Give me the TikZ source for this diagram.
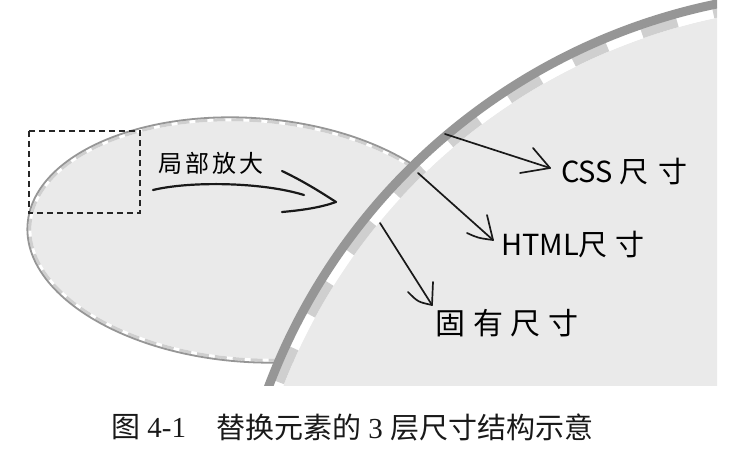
\documentclass[tikz,border=0pt]{standalone}
\usepackage{fontspec}
\setmainfont{Liberation Serif}
\newfontfamily\cjk{Noto Sans CJK SC}
\definecolor{bgfill}{HTML}{EAEAEA}
\definecolor{rimgray}{HTML}{969696}
\definecolor{dashgray}{HTML}{CFCFCF}
\tikzset{
  handtext/.style={font=\cjk, inner sep=0pt, anchor=west, text=black},
  penline/.style={line width=1.7pt, line cap=round, line join=round, draw=black!90},
  rectdash/.style={draw=black!85, line width=1.3pt, dash pattern=on 6pt off 4pt},
  captext/.style={inner sep=0pt, anchor=west, text=black!90, font=\fontsize{29}{31}\selectfont},
}
\begin{document}
\begin{tikzpicture}[x=1pt,y=-1pt]
\useasboundingbox (0,0) rectangle (744,468);
\begin{scope}
  \clip (0,0) rectangle (717,385);
  % small (magnified) ellipse
  \begin{scope}[shift={(250,240)}, rotate=-4]
    \fill[bgfill] (0,0) ellipse[x radius=223pt, y radius=122pt];
    \draw[white, line width=3pt] (0,0) ellipse[x radius=220.5pt, y radius=119.5pt];
    \draw[dashgray, line width=3pt, dash pattern=on 12pt off 6pt] (0,0) ellipse[x radius=220.5pt, y radius=119.5pt];
    \draw[rimgray, line width=1.8pt] (0,0) ellipse[x radius=223pt, y radius=122pt];
  \end{scope}
  \draw[rectdash] (29,131) rectangle (140,213);
  % big circle
  \coordinate (C) at (840,602);
  \fill[bgfill] (C) circle[radius=597pt];
  \draw[white, line width=10pt] (C) circle[radius=602pt];
  \draw[dashgray, line width=10pt, dash pattern=on 37.083pt off 37.083pt, dash phase=2pt] (C) circle[radius=602pt];
  \draw[rimgray, line width=9pt] (C) circle[radius=610.5pt];
\end{scope}

% labels
\node[handtext, font=\cjk\fontsize{24}{26}\selectfont] (zoom) at (158,163) {局\hspace{3pt}部\hspace{3pt}放\hspace{3pt}大};
\node[handtext, font=\cjk\fontsize{29}{31}\selectfont] (css) at (561,172) {CSS\hspace{6pt}尺\hspace{10pt}寸};
\node[handtext, font=\cjk\fontsize{29}{31}\selectfont] (html) at (501,245) {HTML尺\hspace{8pt}寸};
\node[handtext, font=\cjk\fontsize{30}{32}\selectfont] (intr) at (435,323) {固\hspace{8pt}有\hspace{7pt}尺\hspace{8pt}寸};

% curved magnify arrow
\coordinate (z0) at (153,190);
\coordinate (z1) at (304,195);
\coordinate (zt) at (336,202);
\coordinate (za) at (282,171);
\coordinate (zb) at (282,212);
\draw[penline, line width=2.2pt] (z0) .. controls (190,181) and (262,182) .. (z1);
\draw[penline, line width=2.2pt] (za) .. controls (305,182) and (322,193) .. (zt);
\draw[penline, line width=2.2pt] (zb) .. controls (305,210) and (322,207) .. (zt);

% CSS arrow
\coordinate (c0) at (445,134);
\coordinate (ct) at (550,168);
\coordinate (ca) at (533,148);
\coordinate (cb) at (520,173);
\draw[penline] (c0) -- (ct);
\draw[penline] (ca) -- (ct);
\draw[penline] (cb) .. controls (535,170) .. (ct);

% HTML arrow
\coordinate (h0) at (418,173);
\coordinate (ht) at (493,240);
\coordinate (ha) at (487,215);
\coordinate (hb) at (467,233);
\draw[penline] (h0) -- (ht);
\draw[penline] (ha) -- (ht);
\draw[penline] (hb) .. controls (478,238) .. (ht);

% intrinsic arrow
\coordinate (i0) at (380,223);
\coordinate (it) at (432,305);
\coordinate (ia) at (433,282);
\coordinate (ib) at (408,292);
\draw[penline] (i0) -- (it);
\draw[penline] (ia) -- (it);
\draw[penline] (ib) .. controls (418,302) .. (it);

% caption
\node[captext] (cap1) at (111,427) {{\cjk 图} 4-1};
\node[captext] (cap2) at (216,427) {{\cjk 替换元素的} 3 {\cjk 层尺寸结构示意}};
\end{tikzpicture}
\end{document}
